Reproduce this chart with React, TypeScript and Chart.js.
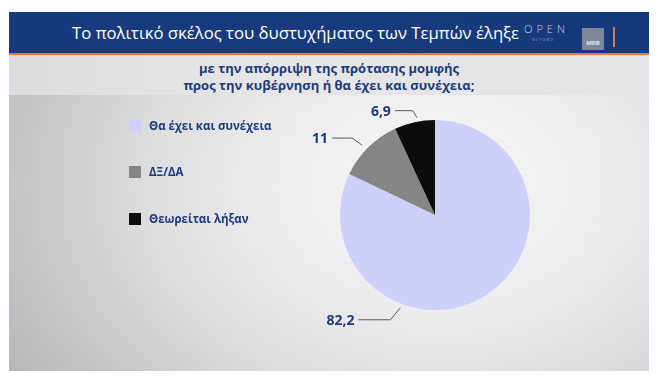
import React, { useEffect, useRef } from "react";
import { Chart, registerables } from "chart.js";

Chart.register(...registerables);

const categories: string[] = ["Θα έχει και συνέχεια", "ΔΞ/ΔΑ", "Θεωρείται λήξαν"];
const values: number[] = [82.2, 11, 6.9];
const valueLabels: string[] = ["82,2", "11", "6,9"];
const colors: string[] = ["#cfcffc", "#858585", "#0c0c0c"];

const titleText = "Το πολιτικό σκέλος του δυστυχήματος των Τεμπών έληξε";
const subtitleLines: string[] = [
  "με την απόρριψη της πρότασης μομφής",
  "προς την κυβέρνηση ή θα έχει και συνέχεια;",
];

// label leader-line styling (fraction within slice, radial offset, elbow offset, horizontal length)
const labelStyle = [
  { frac: 0.678, rOff: 4, dx: -10, dy: 12, len: 32 },
  { frac: 0.46, rOff: 6, dx: -10, dy: -7, len: 20 },
  { frac: 0.575, rOff: 4, dx: -4, dy: -7, len: 18 },
];

const navy = "#1d3b78";

const leaderPlugin = {
  id: "leaderLabels",
  afterDatasetsDraw(chart: any) {
    const ctx = chart.ctx;
    const meta = chart.getDatasetMeta(0);
    meta.data.forEach((arc: any, i: number) => {
      const p = arc.getProps(["x", "y", "startAngle", "endAngle", "outerRadius"], true);
      const st = labelStyle[i];
      const a = p.startAngle + (p.endAngle - p.startAngle) * st.frac;
      const r = p.outerRadius + st.rOff;
      const ax = p.x + Math.cos(a) * r;
      const ay = p.y + Math.sin(a) * r;
      const ex = ax + st.dx;
      const ey = ay + st.dy;
      const hx = ex - st.len;
      ctx.save();
      ctx.strokeStyle = "#5a5a5a";
      ctx.lineWidth = 1;
      ctx.beginPath();
      ctx.moveTo(ax, ay);
      ctx.lineTo(ex, ey);
      ctx.lineTo(hx, ey);
      ctx.stroke();
      ctx.fillStyle = navy;
      ctx.font = "bold 14px 'Open Sans', sans-serif";
      ctx.textAlign = "right";
      ctx.textBaseline = "middle";
      ctx.fillText(valueLabels[i], hx - 4, ey + 1);
      ctx.restore();
    });
  },
};

export default function App() {
  const canvasRef = useRef<HTMLCanvasElement | null>(null);

  useEffect(() => {
    document.body.style.margin = "0";
    const canvas = canvasRef.current;
    if (!canvas) return;
    const chart = new Chart(canvas, {
      type: "pie",
      data: {
        labels: categories,
        datasets: [
          {
            data: values,
            backgroundColor: colors,
            borderWidth: 0,
          },
        ],
      },
      options: {
        animation: false,
        responsive: false,
        maintainAspectRatio: false,
        layout: { padding: { left: 340, right: 130, top: 120, bottom: 70 } },
        plugins: {
          legend: { display: false },
          tooltip: { enabled: false },
          title: { display: false },
        },
      },
      plugins: [leaderPlugin],
    });
    return () => chart.destroy();
  }, []);

  const legendTops = [120, 166, 213];

  return (
    <div
      style={{
        position: "fixed",
        left: 0,
        top: 0,
        width: 660,
        height: 380,
        background: "#ffffff",
        overflow: "hidden",
        fontFamily: "'Open Sans', sans-serif",
      }}
    >
      {/* header */}
      <div
        style={{
          position: "absolute",
          left: 9,
          top: 12,
          width: 640,
          height: 41,
          background: "linear-gradient(90deg, #163a7e 0%, #173b7d 60%, #15387a 100%)",
        }}
      />
      <div style={{ position: "absolute", left: 9, top: 53, width: 640, height: 2, background: "#e8773c" }} />
      <div
        style={{
          position: "absolute",
          left: 9,
          top: 55,
          width: 640,
          height: 40,
          background: "linear-gradient(90deg, #dcdcde 0%, #e6e6e8 40%, #e4e4e6 100%)",
        }}
      />
      <div
        style={{
          position: "absolute",
          left: 9,
          top: 95,
          width: 640,
          height: 276,
          background:
            "radial-gradient(ellipse 520px 380px at 430px 90px, #f7f7f8 0%, #eeeef0 30%, #dcdcde 58%, #c4c4c6 82%, #b4b4b6 100%)",
        }}
      />
      <div
        style={{
          position: "absolute",
          left: 20,
          top: 20,
          width: 499,
          textAlign: "right",
          color: "#ffffff",
          fontSize: 16.7,
          lineHeight: "26px",
          whiteSpace: "nowrap",
        }}
      >
        {titleText}
      </div>
      <div
        style={{
          position: "absolute",
          left: 524,
          top: 23,
          color: "#c9cfe2",
          fontSize: 11,
          letterSpacing: 4,
          lineHeight: "12px",
          fontWeight: 300,
        }}
      >
        OPEN
      </div>
      <div
        style={{
          position: "absolute",
          left: 532,
          top: 37,
          color: "#8f9bbd",
          fontSize: 4,
          letterSpacing: 1,
          lineHeight: "5px",
        }}
      >
        BEYOND
      </div>
      <div
        style={{
          position: "absolute",
          left: 582,
          top: 28,
          width: 22,
          height: 22,
          background: "#7d8799",
          color: "#e8eaf0",
          fontSize: 6,
          fontWeight: 700,
          textAlign: "center",
          lineHeight: "30px",
        }}
      >
        MRB
      </div>
      <div style={{ position: "absolute", left: 613, top: 27, width: 2, height: 20, background: "#e8773c" }} />
      {/* subtitle */}
      <div
        style={{
          position: "absolute",
          left: 9,
          top: 60,
          width: 640,
          textAlign: "center",
          color: navy,
          fontSize: 13,
          fontWeight: 700,
          lineHeight: "17px",
        }}
      >
        {subtitleLines.map((l, i) => (
          <div key={i}>{l}</div>
        ))}
      </div>
      <canvas
        ref={canvasRef}
        width={660}
        height={380}
        style={{ position: "absolute", left: 0, top: 0, width: 660, height: 380 }}
      />
      {/* legend */}
      {categories.map((c, i) => (
        <div key={i}>
          <div
            style={{
              position: "absolute",
              left: 129,
              top: legendTops[i],
              width: 12,
              height: 12,
              background: colors[i],
            }}
          />
          <div
            style={{
              position: "absolute",
              left: 149,
              top: legendTops[i] - 3,
              color: navy,
              fontSize: 11.5,
              fontWeight: 700,
              lineHeight: "18px",
              whiteSpace: "nowrap",
            }}
          >
            {c}
          </div>
        </div>
      ))}
    </div>
  );
}
